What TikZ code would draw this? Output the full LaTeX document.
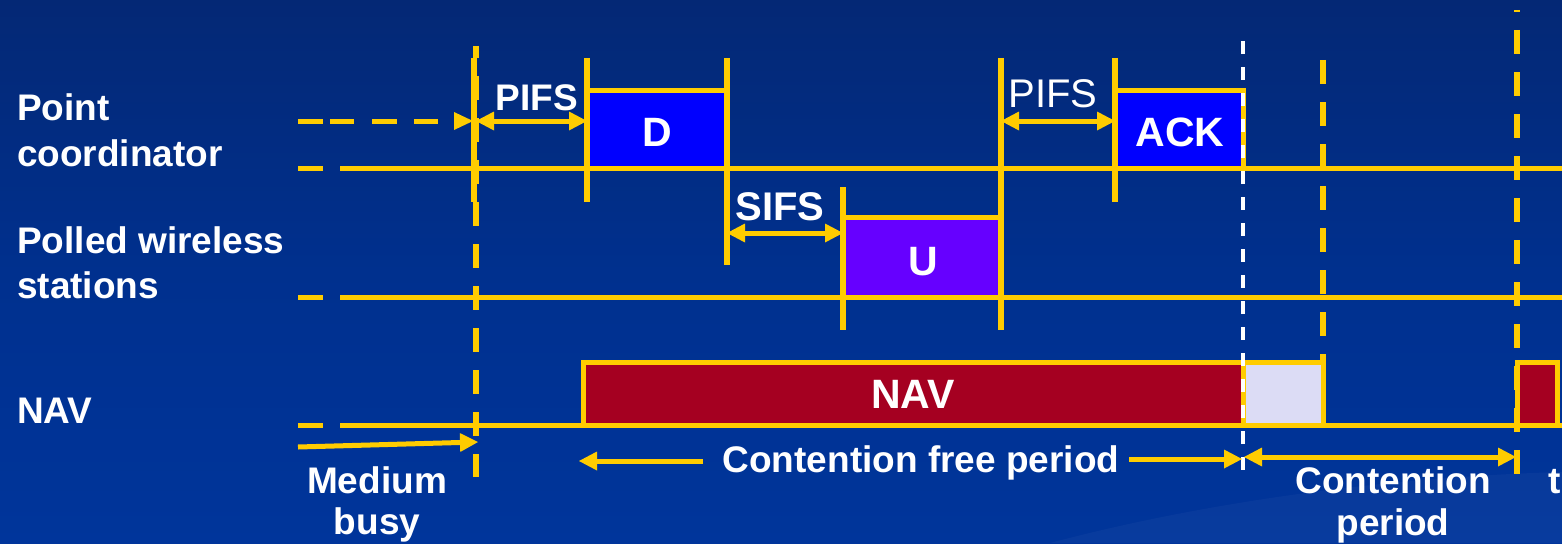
\documentclass[tikz,border=0pt]{standalone}
\usepackage{fontspec}
\setmainfont{Liberation Sans}
\usetikzlibrary{arrows.meta}
\definecolor{ylw}{RGB}{255,204,0}
\definecolor{bgtop}{RGB}{4,40,117}
\definecolor{bgmid}{RGB}{0,48,142}
\definecolor{bgbot}{RGB}{0,53,155}
\definecolor{dblue}{RGB}{0,0,255}
\definecolor{upurple}{RGB}{102,0,255}
\definecolor{navred}{RGB}{165,0,33}
\definecolor{lav}{RGB}{220,220,245}
\tikzset{
  yt/.tip={Triangle[length=18pt,width=19pt,line width=0pt]},
  yl/.style={draw=ylw, line width=5pt},
  tk/.style={draw=ylw, line width=5.5pt},
  bx/.style={draw=ylw, line width=5pt, inner sep=0pt, outer sep=0pt},
  ar/.style={draw=ylw, line width=5pt, -yt},
  dar/.style={draw=ylw, line width=5pt, yt-yt},
  ydash/.style={draw=ylw, line width=6pt, dash pattern=on 24pt off 18pt},
  wdash/.style={draw=white, line width=4pt, dash pattern=on 13pt off 13pt},
  txt/.style={text=white, font=\bfseries\fontsize{37}{44}\selectfont, inner sep=0pt},
  big/.style={text=white, font=\bfseries\fontsize{41}{48}\selectfont, inner sep=0pt},
  reg/.style={text=white, font=\fontsize{40}{48}\selectfont, inner sep=0pt},
}
\begin{document}
\begin{tikzpicture}[x=1pt,y=-1pt]
\useasboundingbox (0,0) rectangle (1562,543);
\shade[top color=bgtop, bottom color=bgbot, middle color=bgmid] (0,0) rectangle (1562,543);
\fill[white, opacity=0.03] (1050,543) .. controls (1250,490) and (1450,475) .. (1562,472) -- (1562,543) -- cycle;

% time lines
\foreach \yy in {168,297,425}{
  \draw[yl] (298,\yy) -- (323,\yy);
  \draw[yl] (340,\yy) -- (1562,\yy);
}
% dashed arrow on coordinator row
\foreach \xa/\xb in {298/323,330/354,372/397,414/438}{
  \draw[yl] (\xa,121) -- (\xb,121);
}
\fill[ylw] (454,112) -- (473,121) -- (454,130) -- cycle;

% boxes
\node[bx, fill=dblue, minimum width=140pt, minimum height=78pt] (Dbox) at (657,129) {};
\node[bx, fill=dblue, minimum width=128pt, minimum height=78pt] (Abox) at (1179,129) {};
\node[bx, fill=upurple, minimum width=158pt, minimum height=80pt] (Ubox) at (922,257) {};
\node[bx, fill=navred, minimum width=660pt, minimum height=63pt] (Nbox) at (913,393.5) {};
\node[bx, fill=lav, minimum width=80pt, minimum height=63pt] (Lbox) at (1283,393.5) {};
\node[bx, fill=navred, minimum width=40pt, minimum height=63pt] (Rbox) at (1537,393.5) {};

% solid ticks
\draw[tk] (474,58) -- (474,202);
\draw[tk] (587,58) -- (587,202);
\draw[tk] (727,58) -- (727,265);
\draw[tk] (843,187) -- (843,330);
\draw[tk] (1001,58) -- (1001,330);
\draw[tk] (1115,58) -- (1115,202);

% dashed verticals
\draw[ydash, dash phase=12pt] (476,46) -- (476,477);
\draw[ydash] (1323,60) -- (1323,362);
\draw[ydash, dash phase=22pt] (1517,10) -- (1517,474);
\draw[wdash] (1243,41) -- (1243,474);

% interval arrows
\coordinate (pa) at (476,121); \coordinate (pb) at (587,121);
\coordinate (sa) at (727,233); \coordinate (sb) at (843,233);
\coordinate (qa) at (1001,121); \coordinate (qb) at (1115,121);
\draw[dar] (pa) -- (pb);
\draw[dar] (sa) -- (sb);
\draw[dar] (qa) -- (qb);
\coordinate (mb0) at (298,447); \coordinate (mb1) at (478,442);
\draw[ar] (mb0) -- (mb1);
\coordinate (cf0) at (703,461); \coordinate (cf1) at (579,461);
\coordinate (cf2) at (1129,459); \coordinate (cf3) at (1242,459);
\draw[ar] (cf0) -- (cf1);
\draw[ar] (cf2) -- (cf3);
\coordinate (cp0) at (1244,457); \coordinate (cp1) at (1516,457);
\draw[dar] (cp0) -- (cp1);

% labels
\node[txt, anchor=base west] (l1) at (17,120) {Point};
\node[txt, anchor=base west] (l2) at (17,166) {coordinator};
\node[txt, anchor=base west] (l3) at (17,253) {Polled wireless};
\node[txt, anchor=base west] (l4) at (17,298) {stations};
\node[txt, anchor=base west] (l5) at (17,423) {NAV};

\node[txt, anchor=base] (pifs1) at (537,110) {PIFS};
\node[reg, anchor=base] (pifs2) at (1053,107) {PIFS};
\node[txt, font=\bfseries\fontsize{40}{48}\selectfont, anchor=base] (sifs) at (780,220) {SIFS};

\node[big, anchor=base] (Dt) at (657,146) {D};
\node[big, anchor=base] (At) at (1180,146) {ACK};
\node[big, anchor=base] (Ut) at (923,275) {U};
\node[big, anchor=base] (Nt) at (913,408) {NAV};

\node[txt, anchor=base] (cfp) at (921,472) {Contention free period};
\node[txt, anchor=base] (mb1t) at (377,493) {Medium};
\node[txt, anchor=base] (mb2t) at (377,534) {busy};
\node[txt, anchor=base] (cp1t) at (1393,493) {Contention};
\node[txt, anchor=base] (cp2t) at (1393,535) {period};
\node[txt, anchor=base west] (tt) at (1548,493) {t};
\end{tikzpicture}
\end{document}
